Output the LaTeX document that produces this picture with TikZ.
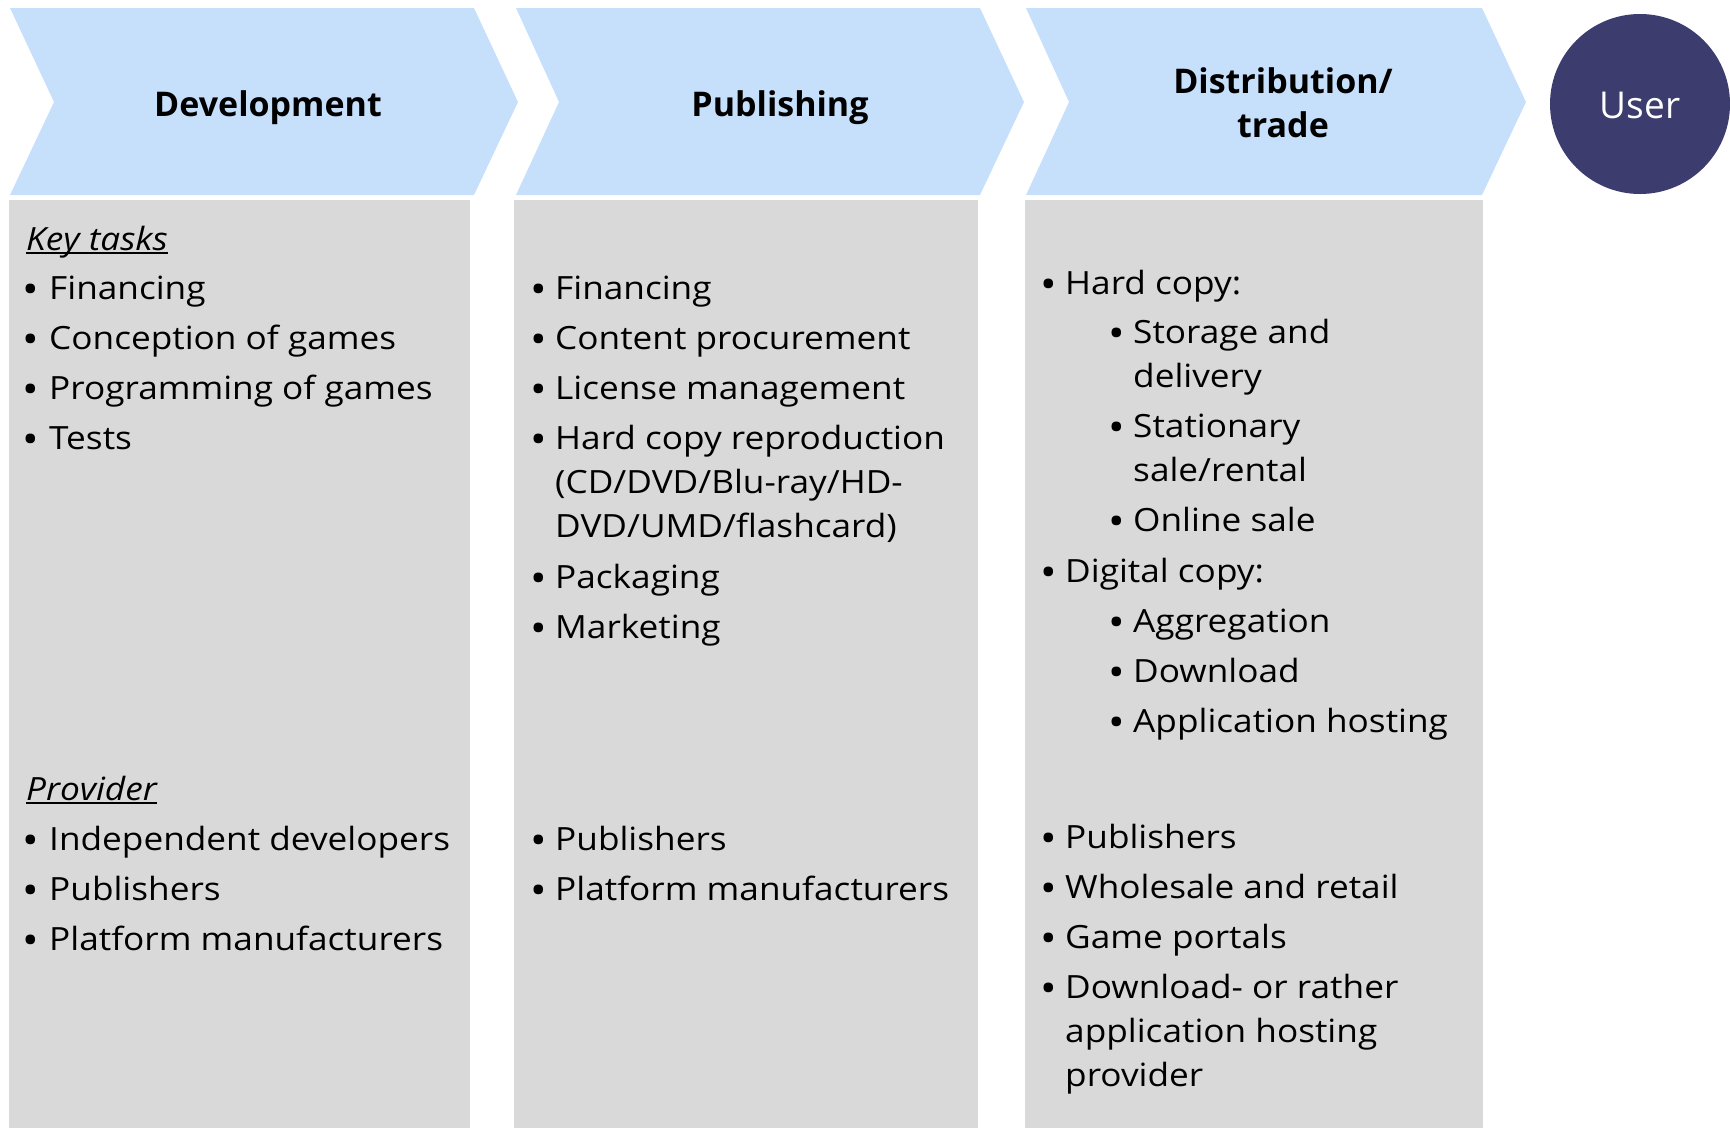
\documentclass[tikz,border=0pt]{standalone}
\usepackage{fontspec}
\setmainfont{Open Sans}[FakeStretch=1.1]
\newfontfamily\hfont{Open Sans}
\definecolor{chevblue}{HTML}{C6E0FC}
\definecolor{colgray}{HTML}{D9D9D9}
\definecolor{usernavy}{HTML}{3D3C6E}
\tikzset{
  chev/.style={fill=chevblue, draw=none},
  colbox/.style={fill=colgray, draw=none},
  txt/.style={inner sep=0pt, anchor=base west, font=\fontsize{32}{44}\selectfont},
  bul/.style={inner sep=0pt, anchor=base, font=\fontsize{40}{44}\selectfont},
  head/.style={inner sep=0pt, anchor=base, font=\hfont\fontsize{34}{44}\selectfont\bfseries},
  usertxt/.style={inner sep=0pt, anchor=base, text=white, font=\hfont\fontsize{37}{44}\selectfont},
  uline/.style={line width=1.8pt, black},
}
% #1 name, #2 bullet centre x, #3 text x, #4 baseline y, #5 text
\newcommand\itm[5]{%
  \node[bul] (#1-b) at (#2,#4+4) {•};
  \node[txt] (#1) at (#3,#4) {#5};}
\newcommand\wrapped[1]{\parbox[t]{420pt}{\raggedright #1}}
\begin{document}
\begin{tikzpicture}[x=1pt,y=-1pt]
\useasboundingbox (0,0) rectangle (1730,1128);
% chevrons
\path[chev] (10,8) -- (474,8) -- (518,102) -- (474,195) -- (10,195) -- (54,102) -- cycle;
\path[chev] (516,8) -- (980,8) -- (1024,102) -- (980,195) -- (516,195) -- (559,102) -- cycle;
\path[chev] (1026,8) -- (1482,8) -- (1526,102) -- (1482,195) -- (1026,195) -- (1069,102) -- cycle;
% user circle
\node[circle, fill=usernavy, minimum size=180pt, inner sep=0pt] (usr) at (1640,104) {};
\node[usertxt] (usrt) at (1640,118) {User};
% headers
\node[head] (h1) at (268,116) {Development};
\node[head] (h2) at (780,116) {Publishing};
\node[head] (h3) at (1283,93) {\parbox[t]{300pt}{\centering Distribution/\\trade}};
% columns
\path[colbox] (9,200) rectangle (470,1128);
\path[colbox] (514,200) rectangle (978,1128);
\path[colbox] (1025,200) rectangle (1483,1128);
% column 1
\node[txt] (kt) at (26,250) {\itshape Key tasks};
\draw[uline] ([yshift=-3pt]kt.base west) -- ([yshift=-3pt]kt.base east);
\itm{c1a}{31}{49}{299}{Financing}
\itm{c1b}{31}{49}{349}{Conception of games}
\itm{c1c}{31}{49}{399}{Programming of games}
\itm{c1d}{31}{49}{449}{Tests}
\node[txt] (pv) at (26,800) {\itshape Provider};
\draw[uline] ([yshift=-3pt]pv.base west) -- ([yshift=-3pt]pv.base east);
\itm{c1e}{31}{49}{850}{Independent developers}
\itm{c1f}{31}{49}{900}{Publishers}
\itm{c1g}{31}{49}{950}{Platform manufacturers}
% column 2
\itm{c2a}{539}{555}{299}{Financing}
\itm{c2b}{539}{555}{349}{Content procurement}
\itm{c2c}{539}{555}{399}{License management}
\itm{c2d}{539}{555}{449}{\wrapped{Hard copy reproduction\\(CD/DVD/Blu-ray/HD-\\DVD/UMD/flashcard)}}
\itm{c2e}{539}{555}{588}{Packaging}
\itm{c2f}{539}{555}{638}{Marketing}
\itm{c2g}{539}{555}{850}{Publishers}
\itm{c2h}{539}{555}{900}{Platform manufacturers}
% column 3
\itm{c3a}{1049}{1065}{294}{Hard copy:}
\itm{c3b}{1117}{1133}{343}{\wrapped{Storage and\\delivery}}
\itm{c3c}{1117}{1133}{437}{\wrapped{Stationary\\sale/rental}}
\itm{c3d}{1117}{1133}{531}{Online sale}
\itm{c3e}{1049}{1065}{582}{Digital copy:}
\itm{c3f}{1117}{1133}{632}{Aggregation}
\itm{c3g}{1117}{1133}{682}{Download}
\itm{c3h}{1117}{1133}{732}{Application hosting}
\itm{c3i}{1049}{1065}{848}{Publishers}
\itm{c3j}{1049}{1065}{898}{Wholesale and retail}
\itm{c3k}{1049}{1065}{948}{Game portals}
\itm{c3l}{1049}{1065}{998}{\wrapped{Download- or rather\\application hosting\\provider}}
\end{tikzpicture}
\end{document}
